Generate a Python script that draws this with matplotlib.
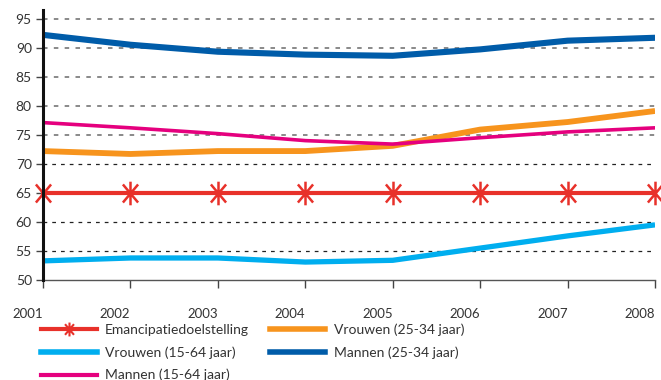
import matplotlib
matplotlib.use("Agg")
import numpy as np
import matplotlib.pyplot as plt
from matplotlib.lines import Line2D
from matplotlib.path import Path

plt.rcParams['font.family'] = ['Lato', 'DejaVu Sans']

years = [2001, 2002, 2003, 2004, 2005, 2006, 2007, 2008]
emancipatie = [65, 65, 65, 65, 65, 65, 65, 65]
vrouwen_15_64 = [53.3, 53.8, 53.8, 53.1, 53.4, 55.5, 57.6, 59.5]
mannen_15_64 = [77.1, 76.2, 75.2, 74.0, 73.4, 74.5, 75.5, 76.2]
vrouwen_25_34 = [72.2, 71.7, 72.2, 72.2, 73.1, 75.9, 77.2, 79.1]
mannen_25_34 = [92.2, 90.5, 89.3, 88.8, 88.6, 89.7, 91.2, 91.7]
yticks = [50, 55, 60, 65, 70, 75, 80, 85, 90, 95]

labels = ["Emancipatiedoelstelling", "Vrouwen (15-64 jaar)", "Mannen (15-64 jaar)",
          "Vrouwen (25-34 jaar)", "Mannen (25-34 jaar)"]

# asterisk marker: vertical arm plus an X
a = np.deg2rad(50)
cx, cy = np.cos(a), np.sin(a)
star = Path([(0, -1), (0, 1), (-cx, -cy), (cx, cy), (-cx, cy), (cx, -cy)],
            [Path.MOVETO, Path.LINETO, Path.MOVETO, Path.LINETO, Path.MOVETO, Path.LINETO])

fig = plt.figure(figsize=(6.61, 3.80), dpi=100)
ax = fig.add_axes([0.065, 0.263, 0.926, 0.711])

for v in yticks[1:]:
    if v in (55, 60, 70):
        ax.axhline(v, color='#222222', lw=0.9, ls=(0, (3, 4)), zorder=1)
    else:
        ax.axhline(v, color='#808080', lw=1.3, ls=(0, (2.5, 3.5)), zorder=1)

ax.plot(years, emancipatie, color='#e8312a', lw=3, marker=star, ms=17,
        mew=1.8, mec='#e8312a', clip_on=False, zorder=5)
ax.plot(years, vrouwen_15_64, color='#00aeef', lw=3.8, solid_capstyle='butt', zorder=4)
ax.plot(years, mannen_15_64, color='#e5007e', lw=2.6, solid_capstyle='butt', zorder=4)
ax.plot(years, vrouwen_25_34, color='#f7941d', lw=4.2, solid_capstyle='butt', zorder=3)
ax.plot(years, mannen_25_34, color='#005ca9', lw=4.4, solid_capstyle='butt', zorder=4)

ax.set_xlim(2001, 2008)
ax.set_ylim(50, 96.5)
ax.set_yticks(yticks)
ax.set_xticks(years)
ax.set_xticklabels([str(y) for y in years], ha='right')
ax.tick_params(axis='x', direction='out', length=6, width=1, color='#444444',
               pad=14, labelsize=9.5, labelcolor='#333333')
ax.tick_params(axis='y', direction='out', length=5, width=1, color='#444444',
               pad=3, labelsize=10, labelcolor='#333333')

ax.spines['top'].set_visible(False)
ax.spines['right'].set_visible(False)
ax.spines['left'].set_color('#111111')
ax.spines['left'].set_linewidth(2.2)
ax.spines['left'].set_zorder(6)
ax.spines['bottom'].set_color('#555555')
ax.spines['bottom'].set_linewidth(1)

handles = [
    Line2D([], [], color='#e8312a', lw=3, marker=star, ms=10, mew=1.5),
    Line2D([], [], color='#00aeef', lw=4),
    Line2D([], [], color='#e5007e', lw=3),
    Line2D([], [], color='#f7941d', lw=4),
    Line2D([], [], color='#005ca9', lw=4),
]
leg = fig.legend(handles, labels, ncol=2, loc='upper left', bbox_to_anchor=(0.062, 0.15),
                 frameon=False, fontsize=10, handlelength=4.0, columnspacing=1.5,
                 labelspacing=0.75, handletextpad=0.6, borderaxespad=0, borderpad=0)
for t in leg.get_texts():
    t.set_color('#333333')

fig.savefig('out.png', dpi=100)
